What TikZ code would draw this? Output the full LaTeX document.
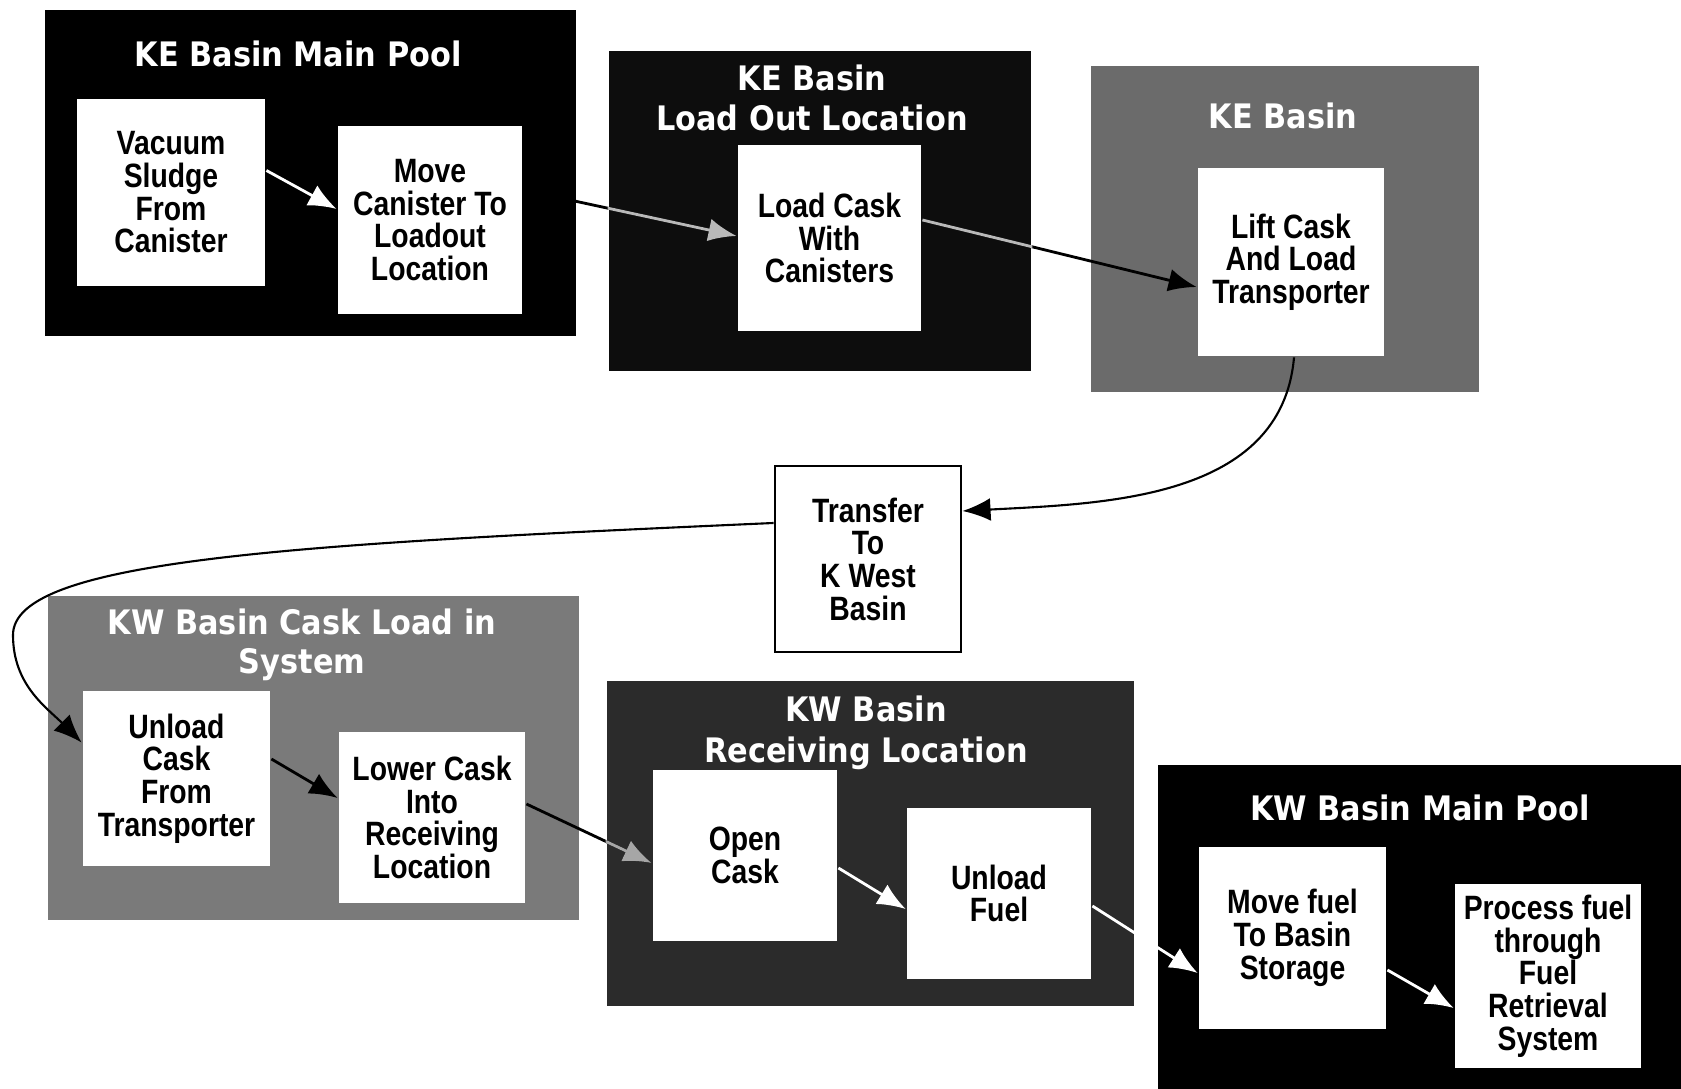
\documentclass[tikz,border=0pt]{standalone}
\usepackage{fontspec}
\usepackage{tikz}
\usetikzlibrary{arrows.meta}

\newfontfamily\stepfont{Liberation Sans}[FakeStretch=0.84]
\newfontfamily\titlefont{DejaVu Sans}[FakeStretch=0.9]

\definecolor{kegrey}{gray}{0.42}
\definecolor{kwgrey}{gray}{0.48}
\definecolor{kwdark}{gray}{0.17}

\begin{document}
\begin{tikzpicture}[thick,
	stepbox/.style={fill=white, minimum width=1.86cm, minimum height=1.86cm, inner sep=1pt, align=center,
		font=\stepfont\bfseries\fontsize{9.6}{9.3}\selectfont},
	areabox/.style={inner sep=0pt},
	areatitle/.style={text=white, align=center, font=\titlefont\bfseries\fontsize{9.6}{11.6}\selectfont},
	flow/.style={-{Latex[length=8pt,width=6.5pt]}}]
		
		\fill[white] (0,0) rectangle (16.81,10.89);
		\useasboundingbox (0,0) rectangle (16.81,10.89);
		
		% --- KE Basin main pool ---
		\node[areabox, fill=black, minimum width=5.31cm, minimum height=3.26cm] (kemain) at (3.105,9.16) {};
		\node[areatitle] (kemaintitle) at (2.98,10.35) {KE Basin Main Pool};
		\node[stepbox, minimum width=1.88cm, minimum height=1.87cm] (vacuum) at (1.71,8.965) {Vacuum\\Sludge\\From\\Canister};
		\node[stepbox, minimum width=1.84cm, minimum height=1.88cm] (movecan) at (4.30,8.69) {Move\\Canister To\\Loadout\\Location};
		
		% --- KE Basin load out location ---
		\node[areabox, fill=black!95, minimum width=4.22cm, minimum height=3.20cm] (loadout) at (8.20,8.78) {};
		\node[areatitle] (loadouttitle) at (8.12,9.91) {KE Basin\\Load Out Location};
		\node[stepbox, minimum width=1.83cm] (loadcask) at (8.295,8.51) {Load Cask\\With\\Canisters};
		
		% --- KE Basin ---
		\node[areabox, fill=kegrey, minimum width=3.88cm, minimum height=3.26cm] (kebasin) at (12.85,8.60) {};
		\node[areatitle] (kebasintitle) at (12.83,9.73) {KE Basin};
		\node[stepbox, minimum height=1.88cm] (liftcask) at (12.91,8.27) {Lift Cask\\And Load\\Transporter};
		
		% --- transfer ---
		\node[stepbox, draw=black] (transfer) at (8.68,5.30) {Transfer\\To\\K West\\Basin};
		
		% --- KW Basin cask load in system ---
		\node[areabox, fill=kwgrey, minimum width=5.31cm, minimum height=3.24cm] (kwloadin) at (3.135,3.31) {};
		\node[areatitle, font=\titlefont\bfseries\fontsize{9.6}{11}\selectfont] (kwloadintitle) at (3.02,4.44) {KW Basin Cask Load in\\System};
		\node[stepbox, minimum width=1.87cm, minimum height=1.75cm] (unloadcask) at (1.765,3.105) {Unload\\Cask\\From\\Transporter};
		\node[stepbox, minimum height=1.71cm] (lowercask) at (4.32,2.715) {Lower Cask\\Into\\Receiving\\Location};
		
		% --- KW Basin receiving location ---
		\node[areabox, fill=kwdark, minimum width=5.27cm, minimum height=3.25cm] (kwrecv) at (8.705,2.455) {};
		\node[areatitle] (kwrecvtitle) at (8.66,3.56) {KW Basin\\Receiving Location};
		\node[stepbox, minimum width=1.84cm, minimum height=1.71cm] (opencask) at (7.45,2.335) {Open\\Cask};
		\node[stepbox, minimum width=1.84cm, minimum height=1.71cm] (unloadfuel) at (9.99,1.955) {Unload\\Fuel};
		
		% --- KW Basin main pool ---
		\node[areabox, fill=black, minimum width=5.23cm, minimum height=3.24cm] (kwmain) at (14.195,1.62) {};
		\node[areatitle] (kwmaintitle) at (14.20,2.81) {KW Basin Main Pool};
		\node[stepbox, minimum width=1.87cm, minimum height=1.82cm] (movefuel) at (12.925,1.51) {Move fuel\\To Basin\\Storage};
		\node[stepbox, minimum height=1.84cm] (process) at (15.48,1.13) {Process fuel\\through\\Fuel\\Retrieval\\System};
		
		% Flow arrows
		\draw[flow, white] ([yshift=2.2mm]vacuum.east) -- ([yshift=1.1mm]movecan.west);
		\draw[flow] ([yshift=3mm]movecan.east) -- ([yshift=0.2mm]loadcask.west);
		\draw[flow] ([yshift=1.8mm]loadcask.east) -- ([yshift=-2.5mm]liftcask.west);
		\begin{scope}
			\clip (loadout.south west) rectangle (loadout.north east);
			\draw[flow, gray!55] ([yshift=3mm]movecan.east) -- ([yshift=0.2mm]loadcask.west);
			\draw[gray!55] ([yshift=1.8mm]loadcask.east) -- ([yshift=-2.5mm]liftcask.west);
		\end{scope}
		
		\draw[flow, semithick] ([xshift=0.3mm]liftcask.south) to[out=-95, in=3] ([yshift=4.8mm]transfer.east);
		\coordinate (bend) at (0.13,4.54);
		\draw[semithick] ([yshift=3.6mm]transfer.west) .. controls (3.0,5.45) and (0.13,5.3) .. (bend);
		\draw[flow, semithick] (bend) to[out=-90, in=135] ([yshift=3.6mm]unloadcask.west);
		
		\draw[flow] ([yshift=1.95mm]unloadcask.east) -- ([yshift=1.95mm]lowercask.west);
		\draw[flow] ([yshift=1.35mm]lowercask.east) -- ([yshift=-0.75mm]opencask.west);
		\begin{scope}
			\clip (kwrecv.south west) rectangle (kwrecv.north east);
			\draw[flow, gray!70] ([yshift=1.35mm]lowercask.east) -- ([yshift=-0.75mm]opencask.west);
		\end{scope}
		\draw[flow, white] ([yshift=-1.25mm]opencask.east) -- ([yshift=-1.55mm]unloadfuel.west);
		\draw[flow, white] ([yshift=-1.25mm]unloadfuel.east) -- ([yshift=-3.5mm]movefuel.west);
		\draw[flow, white] ([yshift=-3.2mm]movefuel.east) -- ([yshift=-3.2mm]process.west);
		
	\end{tikzpicture}
\end{document}
